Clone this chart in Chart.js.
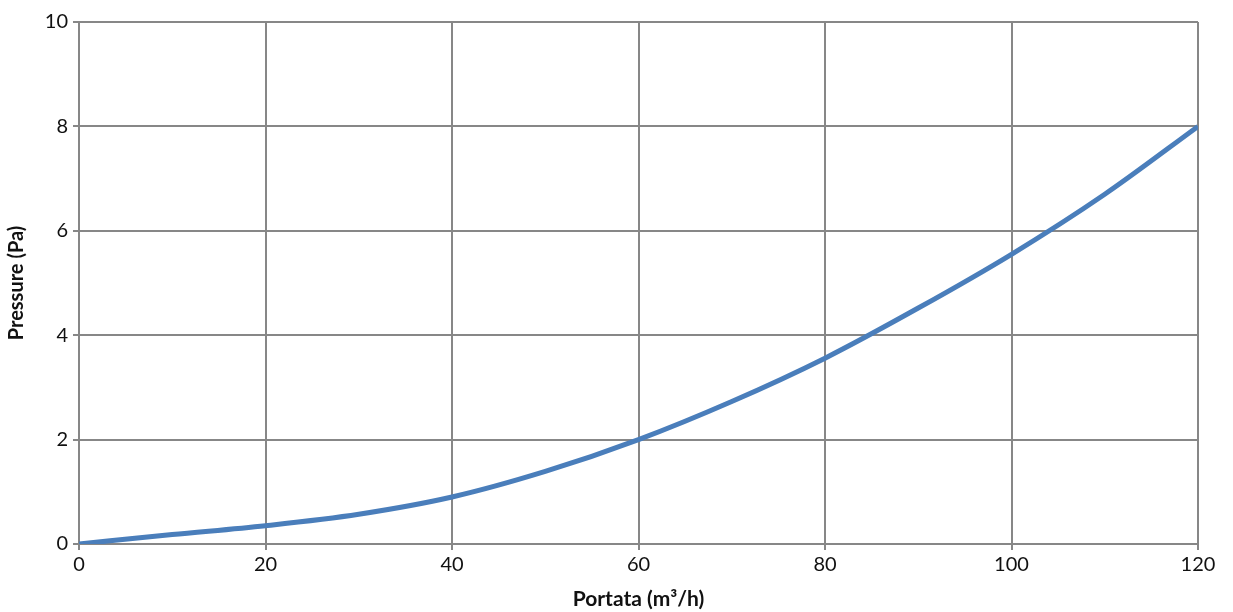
<!DOCTYPE html>
<html>
<head>
<meta charset="utf-8">
<script src="https://cdn.jsdelivr.net/npm/chart.js@4.4.1/dist/chart.umd.min.js"></script>
<style>
  html, body { margin: 0; padding: 0; background: #fff; }
  #wrap { width: 1233px; height: 612px; }
</style>
</head>
<body>
<div id="wrap"><canvas id="myChart" width="1233" height="612"></canvas></div>
<script>
// values
const flow = [0, 10, 20, 30, 40, 50, 60, 70, 80, 90, 100, 110, 120];
const pressure = [0, 0.18, 0.35, 0.57, 0.9, 1.39, 2.0, 2.73, 3.56, 4.52, 5.55, 6.7, 8.0];
const xTitle = "Portata (m³/h)";
const yTitle = "Pressure (Pa)";

const gridColor = "#878787";
const lineColor = "#4a7ebb";

const ctx = document.getElementById("myChart").getContext("2d");

new Chart(ctx, {
  type: "line",
  data: {
    datasets: [{
      data: flow.map((x, i) => ({ x: x, y: pressure[i] })),
      borderColor: lineColor,
      borderWidth: 5,
      pointRadius: 0,
      cubicInterpolationMode: "monotone",
      fill: false
    }]
  },
  options: {
    responsive: false,
    animation: false,
    layout: { padding: { top: 22, right: 35, left: 0, bottom: 0 } },
    plugins: { legend: { display: false }, tooltip: { enabled: false } },
    scales: {
      x: {
        type: "linear",
        min: 0,
        max: 120,
        ticks: { stepSize: 20, color: "#111", font: { family: "Lato", size: 20 }, padding: 3 },
        grid: { color: gridColor, lineWidth: 2, tickLength: 6 },
        border: { color: gridColor, width: 2 },
        title: { display: true, text: xTitle, color: "#111", font: { family: "Lato", size: 21, weight: "bold" }, padding: { top: 0, bottom: 0 } },
        afterFit: scale => { scale.height = 68; }
      },
      y: {
        min: 0,
        max: 10,
        ticks: { stepSize: 2, color: "#111", font: { family: "Lato", size: 20 }, padding: 5 },
        grid: { color: gridColor, lineWidth: 2, tickLength: 6 },
        border: { color: gridColor, width: 2 },
        title: { display: true, text: yTitle, color: "#111", font: { family: "Lato", size: 20, weight: "bold" }, padding: { top: 5, bottom: 0 } },
        afterFit: scale => { scale.width = 79; }
      }
    }
  }
});
</script>
</body>
</html>
